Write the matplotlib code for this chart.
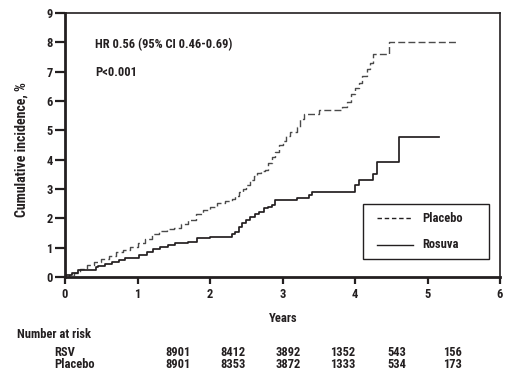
import matplotlib
matplotlib.use("Agg")
import matplotlib.pyplot as plt
from matplotlib.lines import Line2D
from matplotlib.patches import Rectangle

plt.rcParams["font.family"] = ["Roboto Condensed", "Liberation Sans Narrow",
                               "Archivo Narrow", "Asap Condensed", "DejaVu Sans"]
plt.rcParams["font.weight"] = "bold"
plt.rcParams["axes.labelweight"] = "bold"

INK = "#231f20"

# cumulative incidence step points (years, %)
rosuva_t = [0, 0.02, 0.09, 0.18, 0.43, 0.46, 0.55, 0.65, 0.75, 0.83, 1.02, 1.13,
            1.22, 1.31, 1.42, 1.52, 1.7, 1.82, 2.0, 2.3, 2.34, 2.4, 2.44, 2.5,
            2.55, 2.62, 2.68, 2.74, 2.8, 2.85, 2.9, 3.2, 3.36, 3.4, 4.0, 4.05,
            4.25, 4.31, 4.6, 5.16]
rosuva_v = [0, 0.08, 0.15, 0.24, 0.33, 0.38, 0.45, 0.52, 0.58, 0.64, 0.75, 0.86,
            0.94, 1.03, 1.1, 1.15, 1.2, 1.32, 1.38, 1.45, 1.52, 1.72, 1.83, 1.95,
            2.06, 2.15, 2.23, 2.34, 2.4, 2.45, 2.62, 2.68, 2.8, 2.9, 3.14, 3.3,
            3.52, 3.92, 4.78, 4.78]

placebo_t = [0, 0.05, 0.12, 0.2, 0.3, 0.4, 0.5, 0.6, 0.7, 0.8, 0.9, 1.0, 1.1,
             1.2, 1.3, 1.4, 1.5, 1.6, 1.7, 1.8, 1.9, 2.0, 2.1, 2.2, 2.3, 2.35,
             2.4, 2.45, 2.5, 2.55, 2.6, 2.65, 2.7, 2.76, 2.8, 2.85, 2.9, 2.95,
             3.0, 3.05, 3.1, 3.2, 3.24, 3.3, 3.5, 3.82, 3.89, 3.95, 4.0, 4.05,
             4.1, 4.16, 4.21, 4.25, 4.47, 5.4]
placebo_v = [0, 0.06, 0.15, 0.26, 0.4, 0.52, 0.62, 0.72, 0.84, 0.92, 1.02, 1.15,
             1.3, 1.45, 1.57, 1.62, 1.66, 1.8, 1.95, 2.15, 2.3, 2.4, 2.52, 2.58,
             2.65, 2.75, 2.9, 3.0, 3.15, 3.3, 3.45, 3.55, 3.6, 3.65, 3.9, 4.1,
             4.25, 4.5, 4.65, 4.8, 4.95, 5.1, 5.4, 5.55, 5.7, 5.8, 5.95, 6.25,
             6.45, 6.6, 6.85, 7.1, 7.3, 7.6, 8.02, 8.02]

risk_groups = ["RSV", "Placebo"]
risk_rsv = [8901, 8412, 3892, 1352, 543, 156]
risk_placebo = [8901, 8353, 3872, 1333, 534, 173]

W, H = 515, 386
FS = 9


def fx(px):
    return px / W


def fy(py):
    return 1 - py / H


fig = plt.figure(figsize=(W / 100, H / 100), dpi=100)
ax = fig.add_axes([fx(65), fy(277), 435 / W, 264 / H])

dash = (0, (5, 2.3))
ax.step(placebo_t, placebo_v, where="post", color="#4a4a4a", lw=1.0, linestyle=dash)
ax.step(rosuva_t, rosuva_v, where="post", color=INK, lw=1.25)

ax.set_xlim(0, 6)
ax.set_ylim(0, 9)
ax.set_xticks(range(0, 7))
ax.set_yticks(range(0, 10))
for s in ["left", "bottom"]:
    ax.spines[s].set_linewidth(2.0)
for s in ["top", "right"]:
    ax.spines[s].set_linewidth(1.2)
for s in ax.spines.values():
    s.set_color(INK)
ax.tick_params(axis="y", length=7, width=1.6, pad=2, labelsize=FS, colors=INK)
ax.tick_params(axis="x", length=5, width=1.6, pad=3, labelsize=FS, colors=INK)

ax.set_ylabel("Cumulative incidence, %", fontsize=10, color=INK)
ax.yaxis.set_label_coords((29 - 65) / 435, (277 - 150) / 264)

fig.text(fx(95), fy(45), "HR 0.56 (95% CI 0.46-0.69)", fontsize=FS, color=INK,
         va="center", ha="left")
fig.text(fx(95), fy(73), "P<0.001", fontsize=FS, color=INK, va="center", ha="left")

# legend box
fig.add_artist(Rectangle((fx(363), fy(259)), (489 - 363) / W, (259 - 204) / H,
                         transform=fig.transFigure, facecolor="white",
                         edgecolor=INK, lw=1.0, zorder=5))
for y, ls, label in [(218, (0, (3.2, 2.0)), "Placebo"), (245, "-", "Rosuva")]:
    fig.add_artist(Line2D([fx(377), fx(413)], [fy(y), fy(y)], color=INK, lw=1.0,
                          linestyle=ls, transform=fig.transFigure, zorder=6))
    fig.text(fx(422), fy(y), label, fontsize=FS, color=INK, va="center", ha="left",
             zorder=6)

fig.text(fx(283), fy(319), "Years", fontsize=FS, color=INK, ha="center", va="center")
fig.text(fx(17), fy(334), "Number at risk", fontsize=FS, color=INK, ha="left", va="center")
col_x = [178, 233, 288, 343, 397, 452]
for row_y, name, vals in zip([352, 365], risk_groups, [risk_rsv, risk_placebo]):
    fig.text(fx(54), fy(row_y), name, fontsize=FS, color=INK, ha="left", va="center")
    for cx, v in zip(col_x, vals):
        fig.text(fx(cx), fy(row_y), str(v), fontsize=FS, color=INK,
                 ha="center", va="center")

fig.savefig("out.png", dpi=100)
